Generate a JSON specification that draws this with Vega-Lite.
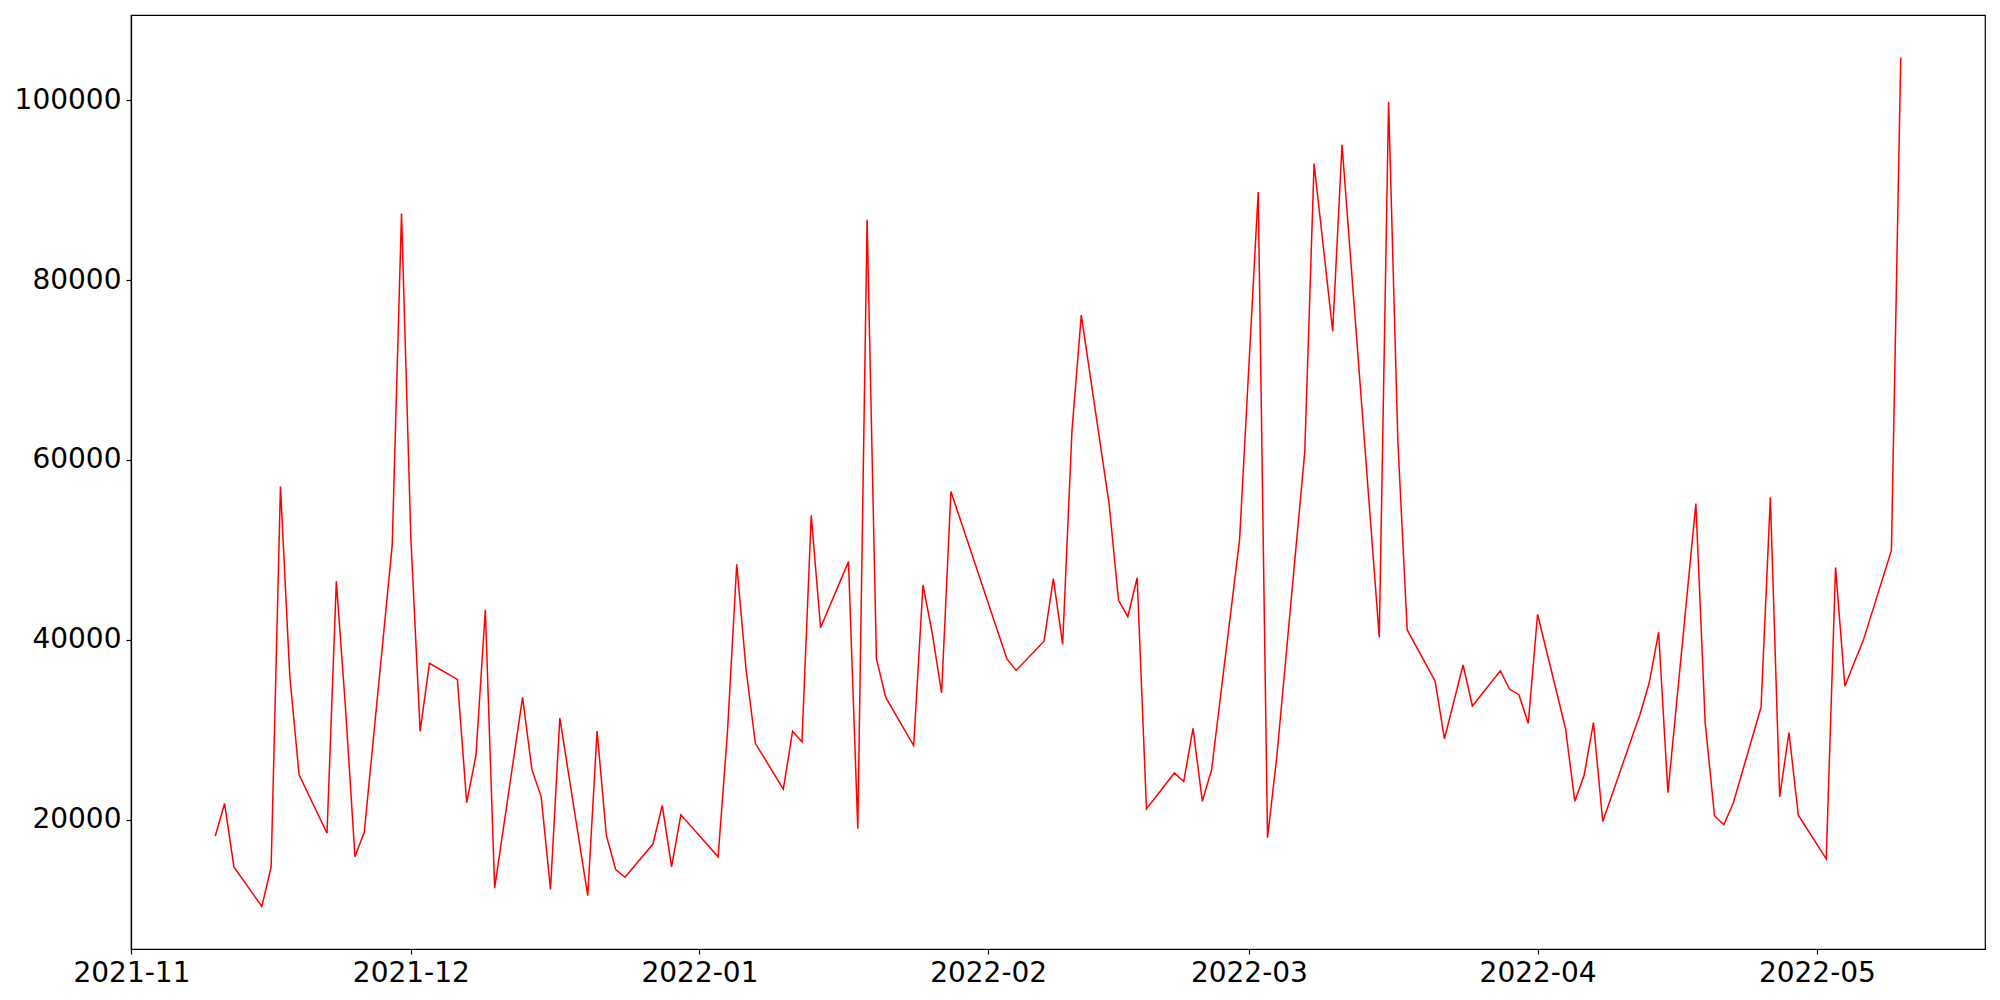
{
  "$schema": "https://vega.github.io/schema/vega-lite/v6.json",
  "width": 1854,
  "height": 934,
  "autosize": {"type": "none"},
  "padding": {"left": 131, "top": 15, "right": 15, "bottom": 51},
  "background": "white",
  "config": {
    "view": {"stroke": "black", "strokeWidth": 1.2},
    "axis": {
      "labelFont": "DejaVu Sans",
      "labelFontSize": 28,
      "labelColor": "black",
      "domainColor": "black",
      "domainWidth": 1.2,
      "tickColor": "black",
      "tickWidth": 1.2,
      "tickSize": 5,
      "labelPadding": 5,
      "grid": false,
      "title": null
    }
  },
  "data": {
    "values": [
      {"date": "2021-11-10", "value": 18200},
      {"date": "2021-11-11", "value": 21800},
      {"date": "2021-11-12", "value": 14750},
      {"date": "2021-11-15", "value": 10350},
      {"date": "2021-11-16", "value": 14750},
      {"date": "2021-11-17", "value": 57050},
      {"date": "2021-11-18", "value": 36000},
      {"date": "2021-11-19", "value": 25000},
      {"date": "2021-11-22", "value": 18500},
      {"date": "2021-11-23", "value": 46500},
      {"date": "2021-11-24", "value": 32200},
      {"date": "2021-11-25", "value": 15900},
      {"date": "2021-11-26", "value": 18600},
      {"date": "2021-11-29", "value": 50500},
      {"date": "2021-11-30", "value": 87400},
      {"date": "2021-12-01", "value": 51400},
      {"date": "2021-12-02", "value": 29850},
      {"date": "2021-12-03", "value": 37400},
      {"date": "2021-12-06", "value": 35600},
      {"date": "2021-12-07", "value": 21900},
      {"date": "2021-12-08", "value": 27200},
      {"date": "2021-12-09", "value": 43350},
      {"date": "2021-12-10", "value": 12400},
      {"date": "2021-12-13", "value": 33600},
      {"date": "2021-12-14", "value": 25600},
      {"date": "2021-12-15", "value": 22550},
      {"date": "2021-12-16", "value": 12250},
      {"date": "2021-12-17", "value": 31300},
      {"date": "2021-12-20", "value": 11550},
      {"date": "2021-12-21", "value": 29850},
      {"date": "2021-12-22", "value": 18250},
      {"date": "2021-12-23", "value": 14450},
      {"date": "2021-12-24", "value": 13600},
      {"date": "2021-12-27", "value": 17300},
      {"date": "2021-12-28", "value": 21600},
      {"date": "2021-12-29", "value": 14750},
      {"date": "2021-12-30", "value": 20550},
      {"date": "2022-01-03", "value": 15880},
      {"date": "2022-01-04", "value": 29700},
      {"date": "2022-01-05", "value": 48400},
      {"date": "2022-01-06", "value": 36700},
      {"date": "2022-01-07", "value": 28500},
      {"date": "2022-01-10", "value": 23400},
      {"date": "2022-01-11", "value": 29850},
      {"date": "2022-01-12", "value": 28650},
      {"date": "2022-01-13", "value": 53850},
      {"date": "2022-01-14", "value": 41350},
      {"date": "2022-01-17", "value": 48700},
      {"date": "2022-01-18", "value": 19000},
      {"date": "2022-01-19", "value": 86700},
      {"date": "2022-01-20", "value": 37900},
      {"date": "2022-01-21", "value": 33600},
      {"date": "2022-01-24", "value": 28250},
      {"date": "2022-01-25", "value": 46100},
      {"date": "2022-01-26", "value": 40700},
      {"date": "2022-01-27", "value": 34100},
      {"date": "2022-01-28", "value": 56500},
      {"date": "2022-02-03", "value": 37900},
      {"date": "2022-02-04", "value": 36600},
      {"date": "2022-02-07", "value": 39850},
      {"date": "2022-02-08", "value": 46800},
      {"date": "2022-02-09", "value": 39500},
      {"date": "2022-02-10", "value": 63250},
      {"date": "2022-02-11", "value": 76100},
      {"date": "2022-02-14", "value": 55000},
      {"date": "2022-02-15", "value": 44400},
      {"date": "2022-02-16", "value": 42580},
      {"date": "2022-02-17", "value": 46900},
      {"date": "2022-02-18", "value": 21200},
      {"date": "2022-02-21", "value": 25200},
      {"date": "2022-02-22", "value": 24250},
      {"date": "2022-02-23", "value": 30150},
      {"date": "2022-02-24", "value": 22050},
      {"date": "2022-02-25", "value": 25600},
      {"date": "2022-02-28", "value": 51150},
      {"date": "2022-03-02", "value": 89800},
      {"date": "2022-03-03", "value": 18000},
      {"date": "2022-03-04", "value": 27050},
      {"date": "2022-03-07", "value": 60900},
      {"date": "2022-03-08", "value": 92950},
      {"date": "2022-03-10", "value": 74300},
      {"date": "2022-03-11", "value": 95050},
      {"date": "2022-03-15", "value": 40300},
      {"date": "2022-03-16", "value": 99830},
      {"date": "2022-03-17", "value": 62000},
      {"date": "2022-03-18", "value": 41100},
      {"date": "2022-03-21", "value": 35400},
      {"date": "2022-03-22", "value": 29000},
      {"date": "2022-03-23", "value": 33100},
      {"date": "2022-03-24", "value": 37200},
      {"date": "2022-03-25", "value": 32650},
      {"date": "2022-03-28", "value": 36550},
      {"date": "2022-03-29", "value": 34500},
      {"date": "2022-03-30", "value": 33900},
      {"date": "2022-03-31", "value": 30700},
      {"date": "2022-04-01", "value": 42850},
      {"date": "2022-04-04", "value": 30150},
      {"date": "2022-04-05", "value": 22050},
      {"date": "2022-04-06", "value": 24950},
      {"date": "2022-04-07", "value": 30800},
      {"date": "2022-04-08", "value": 19800},
      {"date": "2022-04-11", "value": 28750},
      {"date": "2022-04-12", "value": 31700},
      {"date": "2022-04-13", "value": 35250},
      {"date": "2022-04-14", "value": 40850},
      {"date": "2022-04-15", "value": 23000},
      {"date": "2022-04-18", "value": 55150},
      {"date": "2022-04-19", "value": 30800},
      {"date": "2022-04-20", "value": 20450},
      {"date": "2022-04-21", "value": 19450},
      {"date": "2022-04-22", "value": 21800},
      {"date": "2022-04-25", "value": 32500},
      {"date": "2022-04-26", "value": 55850},
      {"date": "2022-04-27", "value": 22550},
      {"date": "2022-04-28", "value": 29700},
      {"date": "2022-04-29", "value": 20500},
      {"date": "2022-05-02", "value": 15650},
      {"date": "2022-05-03", "value": 48050},
      {"date": "2022-05-04", "value": 34850},
      {"date": "2022-05-05", "value": 37450},
      {"date": "2022-05-06", "value": 40000},
      {"date": "2022-05-09", "value": 49950},
      {"date": "2022-05-10", "value": 104750}
    ]
  },
  "mark": {"type": "line", "color": "#ff0000", "strokeWidth": 1.5, "interpolate": "linear"},
  "encoding": {
    "x": {
      "field": "date",
      "type": "temporal",
      "scale": {
        "type": "utc",
        "domain": [
          {"year": 2021, "month": 10, "date": 31, "hours": 22, "minutes": 48, "utc": true},
          {"year": 2022, "month": 5, "date": 19, "hours": 1, "minutes": 12, "utc": true}
        ],
        "nice": false
      },
      "axis": {
        "format": "%Y-%m",
        "values": [
          {"year": 2021, "month": 11, "date": 1, "utc": true},
          {"year": 2021, "month": 12, "date": 1, "utc": true},
          {"year": 2022, "month": 1, "date": 1, "utc": true},
          {"year": 2022, "month": 2, "date": 1, "utc": true},
          {"year": 2022, "month": 3, "date": 1, "utc": true},
          {"year": 2022, "month": 4, "date": 1, "utc": true},
          {"year": 2022, "month": 5, "date": 1, "utc": true}
        ],
        "labelOverlap": false,
        "labelFlush": false
      }
    },
    "y": {
      "field": "value",
      "type": "quantitative",
      "scale": {"domain": [5630, 109470], "nice": false, "zero": false},
      "axis": {
        "values": [20000, 40000, 60000, 80000, 100000],
        "format": "d",
        "labelOverlap": false,
        "labelFlush": false
      }
    }
  }
}
